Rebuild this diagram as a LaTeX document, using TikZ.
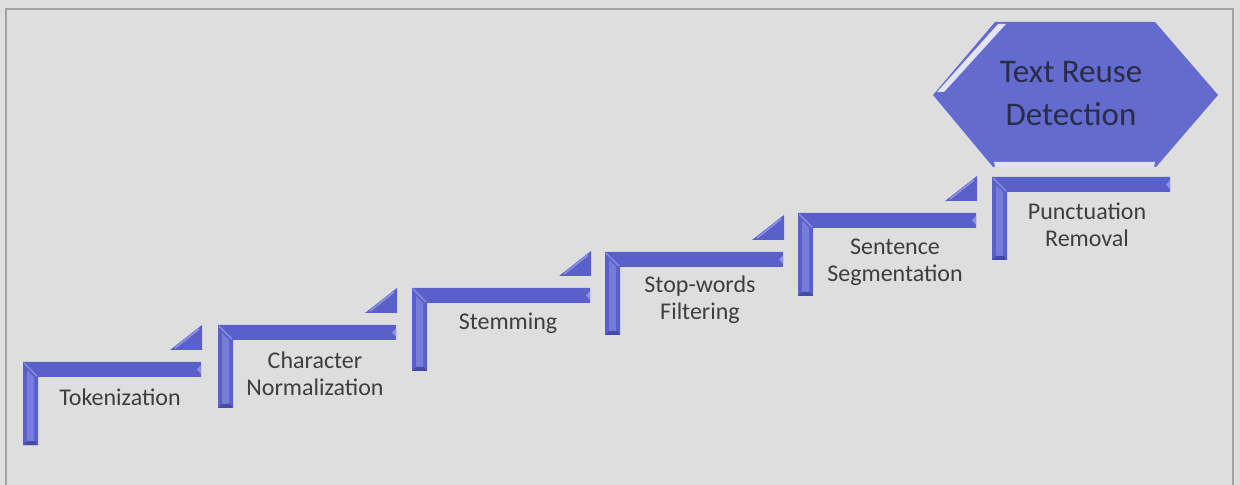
\documentclass[tikz,border=0pt]{standalone}
\usepackage{fontspec}
\setmainfont{Carlito}
\definecolor{paper}{HTML}{DEDEDE}
\definecolor{rule}{HTML}{A2A2A2}
\definecolor{barblue}{HTML}{5A60CA}
\definecolor{barlight}{HTML}{8C92E2}
\definecolor{barsoft}{HTML}{767CDA}
\definecolor{bardark}{HTML}{454AA6}
\definecolor{hexblue}{HTML}{646BCF}
\definecolor{ink}{HTML}{3E3E3E}
\definecolor{hexink}{HTML}{2A2C48}
\tikzset{
  stairbar/.style={fill=barblue},
  bevel/.style={fill=barsoft},
  shade/.style={fill=bardark},
  steplabel/.style={text=ink, font=\fontsize{12}{13.5}\selectfont, align=center, inner sep=0pt},
  goal/.style={text=hexink, font=\fontsize{16.5}{16.5}\selectfont, align=center, inner sep=0pt},
}
\begin{document}
\begin{tikzpicture}[x=0.5pt,y=-0.5pt]
\useasboundingbox (0,0) rectangle (1240,485);
\fill[paper] (0,0) rectangle (1240,485);
% outer frame
\draw[rule, line width=1pt] (6,492) -- (6,9) -- (1233,9) -- (1233,492);

% the L-shaped stair treads
\foreach \x/\y in {23/362, 218/325, 412/288, 605/252, 798/213, 992/177} {
  \fill[stairbar] (\x,\y) -- ++(178,0) -- ++(0,15) -- (\x+15,\y+15) -- (\x+15,\y+83) -- (\x,\y+83) -- cycle;
  % lit face of the riser and inner corner bevel
  \fill[bevel] (\x+4,\y+8) -- (\x+11,\y+15) -- (\x+11,\y+80) -- (\x+4,\y+80) -- cycle;
  \draw[barlight, line width=0.6pt] (\x+1,\y+1) -- (\x+14,\y+14);
  % tip of the tread and foot of the riser
  \fill[barlight] (\x+178,\y+3) -- (\x+174,\y+7.5) -- (\x+178,\y+12) -- cycle;
  \fill[shade] (\x,\y+83) -- (\x+4,\y+79) -- (\x+12,\y+79) -- (\x+15,\y+83) -- cycle;
}

% small wedges between treads
\foreach \x/\y in {23/362, 218/325, 412/288, 605/252, 798/213} {
  \fill[stairbar] (\x+179,\y-37) -- (\x+147,\y-12) -- (\x+179,\y-12) -- cycle;
  \draw[barlight, line width=0.8pt] (\x+176,\y-33) -- (\x+152,\y-14);
}

% step labels
\node[steplabel] (tok)  at (120,397) {Tokenization};
\node[steplabel] (cnorm) at (315,373.5) {Character\\Normalization};
\node[steplabel] (stem) at (508,323) {Stemming};
\node[steplabel] (stop) at (700,300) {Stop-words\\Filtering};
\node[steplabel] (sent) at (895,262) {Sentence\\Segmentation};
\node[steplabel] (punc) at (1087,225) {Punctuation\\Removal};

% goal hexagon
\fill[hexblue] (933,95) -- (995,22) -- (1155,22) -- (1218,95) -- (1156,167) -- (993,167) -- cycle;
\fill[white!82!hexblue] (937,92) -- (998,24) -- (1006,24) -- (944,92) -- cycle;
\fill[white!80!hexblue] (994,162) -- (1155,162) -- (1154,167) -- (995,167) -- cycle;
\node[goal] (trd) at (1071,93.5) {Text Reuse\\[0.3em]Detection};
\end{tikzpicture}
\end{document}
